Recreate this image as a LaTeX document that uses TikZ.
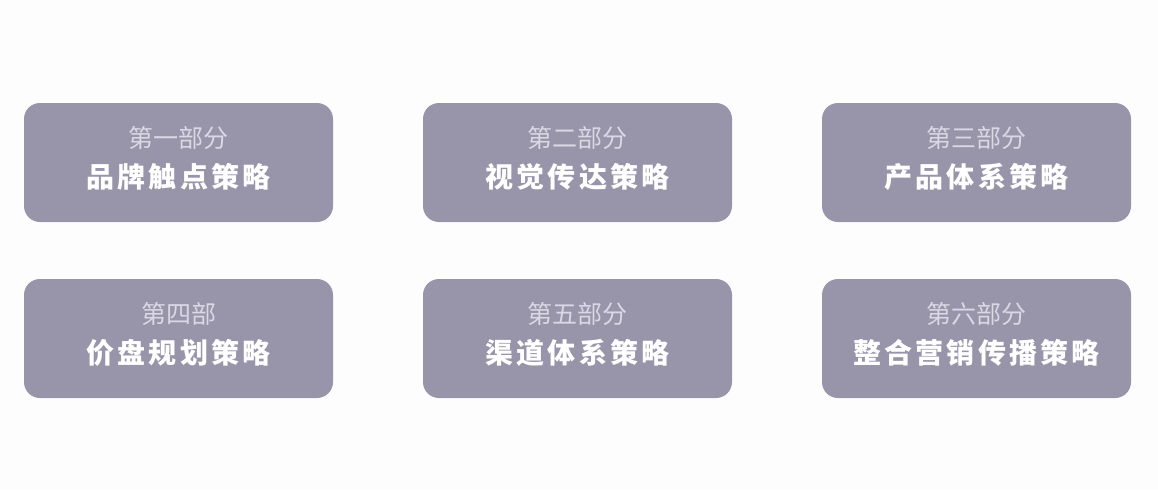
\documentclass[tikz,border=0pt]{standalone}
\usepackage{fontspec}
\usepackage{tikz}
\usetikzlibrary{positioning}

\newfontfamily\headfont{Noto Sans CJK SC}
\newfontfamily\titlefont[LetterSpace=11]{Noto Sans CJK SC}

\definecolor{partfill}{RGB}{152,148,170}
\definecolor{headcolor}{RGB}{218,216,228}
\definecolor{pagebg}{RGB}{253,253,254}

\begin{document}
\begin{tikzpicture}[x=1pt, y=-1pt,
part/.style={rectangle, rounded corners=16pt, fill=partfill,
minimum width=309pt, minimum height=119pt, inner sep=0pt, outer sep=0pt},
%
heading/.style={text=headcolor, font=\headfont\fontsize{25}{29}\selectfont,
inner sep=0pt},
%
title/.style={text=white, font=\titlefont\bfseries\fontsize{28}{32}\selectfont,
inner sep=0pt}]

\fill [pagebg] (0,0) rectangle (1158,490);
\useasboundingbox (0,0) rectangle (1158,490);

%%%%%%%%%%%%%%%%%%%%%%%%%%%%%%
\node [part] (brand) at (178.5,162.5) {};
\node [part, right=90pt of brand] (visual) {};
\node [part, right=90pt of visual] (product) {};
%%%%%%%%%%%%%%%%%%%%%%%%%%%%%%
\node [part, below=57pt of brand] (pricing) {};
\node [part, below=57pt of visual] (channel) {};
\node [part, below=57pt of product] (imc) {};
%%%%%%%%%%%%%%%%%%%%%%%%%%%%%%

\begin{scope}
  \node [heading] (brandH) at ([yshift=24.5pt]brand.center) {第一部分};
  \node [title] (brandT) at ([yshift=-14.5pt]brand.center) {品牌触点策略};
  \node [heading] (visualH) at ([yshift=24.5pt]visual.center) {第二部分};
  \node [title] (visualT) at ([yshift=-14.5pt]visual.center) {视觉传达策略};
  \node [heading] (productH) at ([yshift=24.5pt]product.center) {第三部分};
  \node [title] (productT) at ([yshift=-14.5pt]product.center) {产品体系策略};
  %%%%%%%%%%%%%%%%%%%%%%%%%%%%%%
  \node [heading] (pricingH) at ([yshift=24.5pt]pricing.center) {第四部};
  \node [title] (pricingT) at ([yshift=-14.5pt]pricing.center) {价盘规划策略};
  \node [heading] (channelH) at ([yshift=24.5pt]channel.center) {第五部分};
  \node [title] (channelT) at ([yshift=-14.5pt]channel.center) {渠道体系策略};
  \node [heading] (imcH) at ([yshift=24.5pt]imc.center) {第六部分};
  \node [title] (imcT) at ([yshift=-14.5pt]imc.center) {整合营销传播策略};
\end{scope}

\end{tikzpicture}
\end{document}
